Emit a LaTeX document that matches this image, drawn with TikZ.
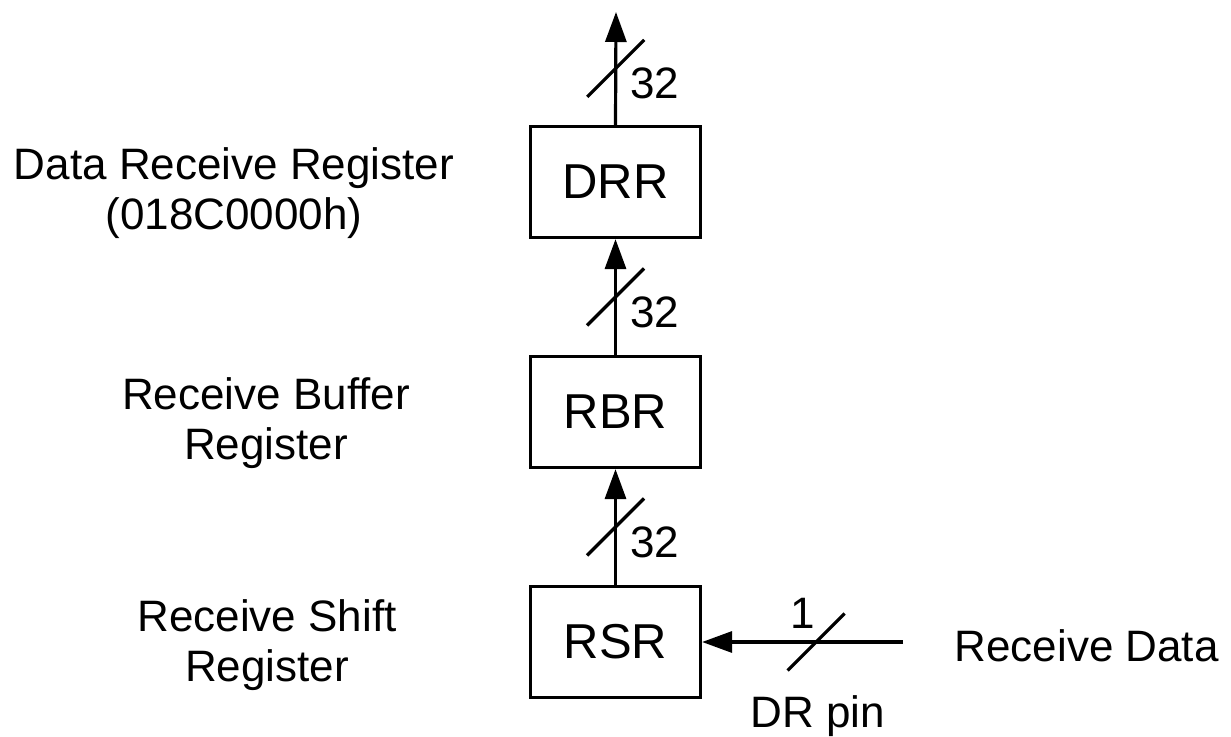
\documentclass[tikz,border=0pt]{standalone}
\usepackage{fontspec}
\setmainfont{Liberation Sans}
\usetikzlibrary{arrows.meta}

\begin{document}
\begin{tikzpicture}[x=0.5pt, y=-0.5pt, line width=1.6pt, >={Triangle[length=15pt, width=10.5pt]},
  every node/.style={font=\fontsize{22}{25}\selectfont, inner sep=0pt},
  reg/.style={draw, minimum width=85pt, minimum height=55.5pt, font=\fontsize{24.5}{28}\selectfont},
  desc/.style={align=center}]
  \useasboundingbox (0,0) rectangle (1231,737);
  % registers
  \node[reg] (drr) at (615.5,182) {DRR};
  \node[reg] (rbr) at (615.5,412) {RBR};
  \node[reg] (rsr) at (615.5,642) {RSR};
  \node[desc] (drrtxt) at (234,193) {Data Receive Register\\(018C0000h)};
  \node[desc] (rbrtxt) at (266,423) {Receive Buffer\\Register};
  \node[desc] (rsrtxt) at (267,645) {Receive Shift\\Register};
  % bus lines
  \coordinate (drrout) at (616,12);
  \coordinate (rxin) at (903,642);
  \draw[->] (drr.north) -- coordinate (b3) (drrout);
  \draw[->] (rbr.north) -- coordinate (b2) (drr.south);
  \draw[->] (rsr.north) -- coordinate (b1) (rbr.south);
  \draw[->] (rxin) -- coordinate[pos=0.433] (b0) (rsr.east);
  \foreach \b in {b0,b1,b2,b3}
    \draw (\b) +(-28.5,28.5) -- +(28.5,-28.5);
  \foreach \b in {b1,b2,b3}
    \node (\b w) at ([shift={(39,15)}]\b) {32};
  \node (b0w) at ([shift={(-13,-29)}]b0) {1};
  \node (pin) at (818,716) {DR pin};
  \node[anchor=west] (rxtxt) at (953,646) {Receive Data};
\end{tikzpicture}
\end{document}
